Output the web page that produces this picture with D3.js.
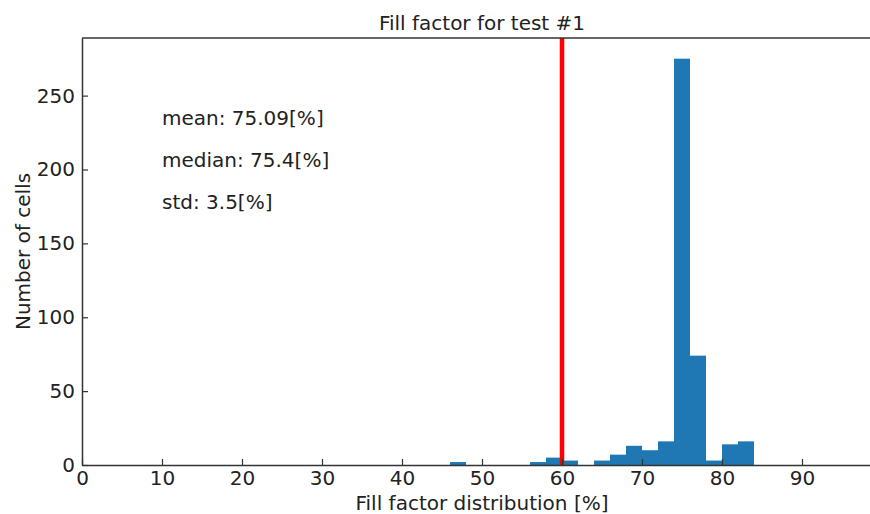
<!DOCTYPE html>
<html>
<head>
<meta charset="utf-8">
<script src="https://cdn.jsdelivr.net/npm/d3@7"></script>
<style>
  body { margin: 0; background: #fff; }
  text { font-family: "DejaVu Sans", sans-serif; fill: #222; }
</style>
</head>
<body>
<script>
// histogram bins (left edge, %) and counts
const binStarts = [46, 48, 50, 52, 54, 56, 58, 60, 62, 64, 66, 68, 70, 72, 74, 76, 78, 80, 82];
const binCounts = [2, 0, 0, 0, 0, 2, 5, 3, 0, 3, 7, 13, 10, 16, 275, 74, 3, 14, 16];
const binWidth = 2;
const threshold = 60;
const xTicks = [0, 10, 20, 30, 40, 50, 60, 70, 80, 90];
const yTicks = [0, 50, 100, 150, 200, 250];
const statLabels = ["mean: 75.09[%]", "median: 75.4[%]", "std: 3.5[%]"];
const statY = [230, 202, 173.5];

const W = 870, H = 514;
const margin = {top: 38, left: 82, bottom: 49};
const fs = 20;

const svg = d3.select("body").append("svg")
    .attr("width", W)
    .attr("height", H);

const x = d3.scaleLinear().domain([0, 100]).range([margin.left, margin.left + 800]);
const y = d3.scaleLinear().domain([0, 289]).range([H - margin.bottom, margin.top]);

const bins = binStarts.map((s, i) => ({x0: s, x1: s + binWidth, n: binCounts[i]}));

// bars
svg.append("g")
    .selectAll("rect")
    .data(bins.filter(d => d.n > 0))
    .join("rect")
    .attr("x", d => x(d.x0))
    .attr("width", d => x(d.x1) - x(d.x0))
    .attr("y", d => y(d.n))
    .attr("height", d => y(0) - y(d.n))
    .attr("fill", "#1f77b4");

// red threshold line
svg.append("line")
    .attr("x1", x(threshold)).attr("x2", x(threshold))
    .attr("y1", y(289)).attr("y2", y(0))
    .attr("stroke", "#ff0000")
    .attr("stroke-width", 4.5);

// axes (ticks pointing inward)
const xAxis = svg.append("g")
    .attr("transform", `translate(0,${y(0)})`)
    .call(d3.axisBottom(x).tickValues(xTicks).tickSizeInner(-6).tickSizeOuter(0).tickPadding(6));
const yAxis = svg.append("g")
    .attr("transform", `translate(${x(0)},0)`)
    .call(d3.axisLeft(y).tickValues(yTicks).tickSizeInner(-6).tickSizeOuter(0).tickPadding(7));

[xAxis, yAxis].forEach(a => {
    a.select(".domain").attr("stroke", "#333").attr("stroke-width", 1.5);
    a.selectAll(".tick line").attr("stroke", "#333").attr("stroke-width", 1.2);
    a.selectAll(".tick text")
        .attr("font-size", fs)
        .attr("font-family", "DejaVu Sans, sans-serif")
        .attr("fill", "#222");
});

// top spine
svg.append("line")
    .attr("x1", x(0)).attr("x2", x(100))
    .attr("y1", y(289)).attr("y2", y(289))
    .attr("stroke", "#333").attr("stroke-width", 1.5);

// stats text
svg.append("g")
    .selectAll("text")
    .data(statLabels)
    .join("text")
    .attr("x", x(10))
    .attr("y", (d, i) => y(statY[i]))
    .attr("font-size", fs)
    .text(d => d);

// title and axis labels
svg.append("text")
    .attr("x", x(50)).attr("y", 30)
    .attr("text-anchor", "middle")
    .attr("font-size", fs)
    .text("Fill factor for test #1");

svg.append("text")
    .attr("x", x(50)).attr("y", 510)
    .attr("text-anchor", "middle")
    .attr("font-size", fs)
    .text("Fill factor distribution [%]");

svg.append("text")
    .attr("transform", `translate(30,${(y(0) + y(289)) / 2}) rotate(-90)`)
    .attr("text-anchor", "middle")
    .attr("font-size", fs)
    .text("Number of cells");
</script>
</body>
</html>
